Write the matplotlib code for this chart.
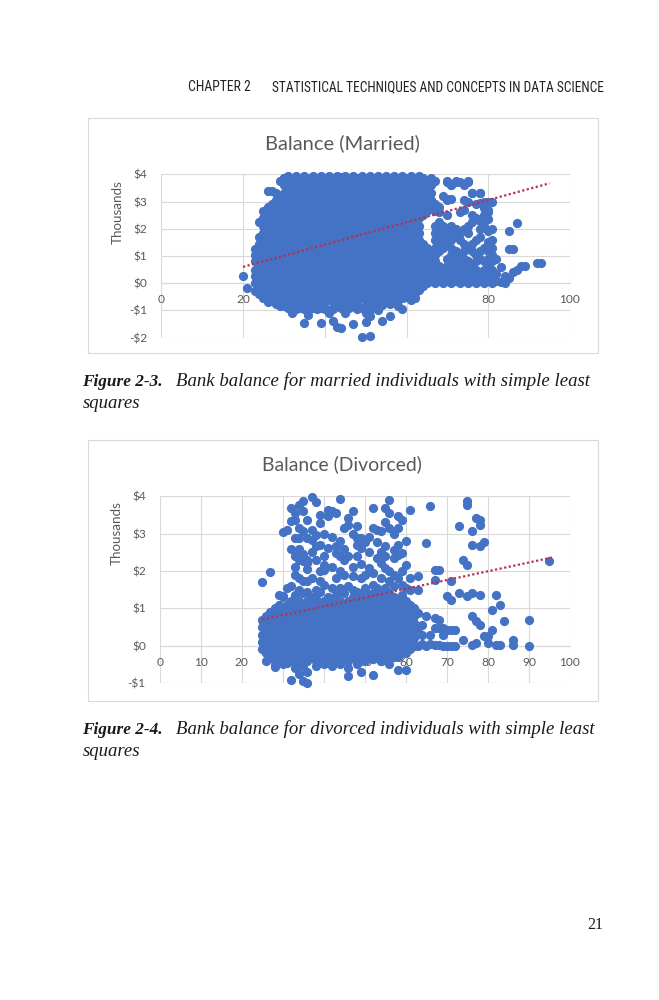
import matplotlib
matplotlib.use("Agg")
import matplotlib.pyplot as plt
from matplotlib.patches import Rectangle

# ---------------- data (age in years, balance in $ thousands) ----------------
# married: dense core read column by column (one list of balances per age)
married_core_age = [23, 24, 25, 26, 27, 28, 29, 30, 31, 32, 33, 34, 35, 36, 37, 38, 39, 40,
                    41, 42, 43, 44, 45, 46, 47, 48, 49, 50, 51, 52, 53, 54, 55, 56, 57, 58,
                    59, 60, 61, 62, 63, 64, 65, 66, 67, 68, 69, 70, 71, 72, 73, 74, 75, 76,
                    77, 78, 79, 80, 81]
married_core_bal = [
    [-0.3, 0.0, 0.25, 0.5, 0.8, 1.05],
    [-0.4, -0.15, 0.1, 0.4, 0.65, 0.9, 1.2, 1.45, 1.7],
    [-0.55, -0.3, 0.0, 0.25, 0.5, 0.8, 1.05, 1.3, 1.6, 1.85, 2.1, 2.4, 2.65],
    [-0.7, -0.4, -0.15, 0.1, 0.4, 0.65, 0.9, 1.2, 1.45, 1.7, 2.0, 2.25, 2.5, 2.8],
    [-0.6, -0.3, 0.0, 0.25, 0.5, 0.8, 1.05, 1.3, 1.6, 1.85, 2.1, 2.4, 2.65, 2.9],
    [-0.75, -0.4, -0.15, 0.1, 0.4, 0.65, 0.9, 1.2, 1.45, 1.7, 2.0, 2.25, 2.5, 2.8, 3.05, 3.3],
    [-0.85, -0.55, -0.3, 0.0, 0.25, 0.5, 0.8, 1.05, 1.3, 1.6, 1.85, 2.1, 2.4, 2.65, 2.9, 3.2],
    [-0.85, -0.6, -0.4, -0.15, 0.1, 0.4, 0.65, 0.9, 1.2, 1.45, 1.7, 2.0, 2.25, 2.5, 2.8, 3.05, 3.3, 3.6, 3.85],
    [-0.9, -0.55, -0.3, 0.0, 0.25, 0.5, 0.8, 1.05, 1.3, 1.6, 1.85, 2.1, 2.4, 2.65, 2.9, 3.2, 3.45, 3.7, 3.92],
    [-1.05, -0.75, -0.45, -0.15, 0.1, 0.4, 0.65, 0.9, 1.2, 1.45, 1.7, 2.0, 2.25, 2.5, 2.8, 3.05, 3.3, 3.6, 3.88],
    [-0.95, -0.65, -0.3, 0.0, 0.25, 0.55, 0.8, 1.05, 1.35, 1.6, 1.85, 2.15, 2.4, 2.65, 2.95, 3.2, 3.45, 3.7, 3.93],
    [-0.9, -0.6, -0.4, -0.15, 0.1, 0.4, 0.7, 0.95, 1.2, 1.45, 1.75, 2.0, 2.25, 2.55, 2.8, 3.05, 3.35, 3.6, 3.85],
    [-0.95, -0.7, -0.35, 0.0, 0.25, 0.5, 0.8, 1.05, 1.3, 1.6, 1.85, 2.1, 2.4, 2.65, 2.9, 3.2, 3.45, 3.7, 3.92],
    [-1.0, -0.7, -0.4, -0.15, 0.15, 0.4, 0.65, 0.9, 1.2, 1.45, 1.7, 2.0, 2.25, 2.5, 2.8, 3.05, 3.3, 3.6, 3.88],
    [-0.9, -0.55, -0.3, 0.0, 0.25, 0.5, 0.8, 1.05, 1.3, 1.6, 1.85, 2.1, 2.4, 2.65, 2.9, 3.2, 3.45, 3.7, 3.92],
    [-0.95, -0.7, -0.4, -0.15, 0.1, 0.4, 0.65, 0.95, 1.2, 1.45, 1.7, 2.0, 2.25, 2.55, 2.8, 3.05, 3.3, 3.6, 3.85],
    [-0.9, -0.55, -0.3, 0.0, 0.3, 0.55, 0.8, 1.05, 1.3, 1.6, 1.85, 2.1, 2.4, 2.65, 2.9, 3.2, 3.45, 3.7, 3.92],
    [-0.95, -0.7, -0.4, -0.15, 0.1, 0.4, 0.65, 0.9, 1.2, 1.5, 1.7, 2.0, 2.25, 2.5, 2.8, 3.05, 3.3, 3.6, 3.88],
    [-1.0, -0.6, -0.3, 0.0, 0.25, 0.5, 0.8, 1.05, 1.3, 1.6, 1.85, 2.1, 2.4, 2.7, 2.9, 3.2, 3.45, 3.7, 3.92],
    [-0.95, -0.7, -0.4, -0.15, 0.1, 0.4, 0.65, 0.9, 1.2, 1.45, 1.7, 2.0, 2.25, 2.5, 2.8, 3.1, 3.3, 3.6, 3.85],
    [-0.85, -0.55, -0.3, 0.0, 0.25, 0.5, 0.8, 1.05, 1.3, 1.6, 1.85, 2.1, 2.4, 2.65, 2.9, 3.2, 3.45, 3.7, 3.92],
    [-0.9, -0.65, -0.4, -0.15, 0.1, 0.4, 0.65, 0.9, 1.2, 1.45, 1.7, 2.0, 2.25, 2.5, 2.8, 3.05, 3.3, 3.6, 3.9],
    [-0.85, -0.55, -0.3, 0.0, 0.25, 0.5, 0.8, 1.05, 1.3, 1.6, 1.85, 2.1, 2.4, 2.65, 2.9, 3.2, 3.45, 3.7, 3.92],
    [-0.9, -0.65, -0.4, -0.15, 0.1, 0.4, 0.65, 0.9, 1.2, 1.45, 1.7, 2.0, 2.25, 2.5, 2.8, 3.05, 3.3, 3.6, 3.85],
    [-0.85, -0.55, -0.3, 0.0, 0.25, 0.5, 0.8, 1.05, 1.3, 1.6, 1.85, 2.1, 2.4, 2.65, 2.9, 3.2, 3.45, 3.7, 3.92],
    [-0.95, -0.7, -0.4, -0.15, 0.1, 0.4, 0.65, 0.9, 1.2, 1.45, 1.7, 2.0, 2.25, 2.5, 2.8, 3.05, 3.3, 3.6, 3.88],
    [-0.9, -0.55, -0.3, 0.0, 0.25, 0.5, 0.8, 1.05, 1.3, 1.6, 1.85, 2.1, 2.4, 2.65, 2.9, 3.2, 3.45, 3.7, 3.92],
    [-1.1, -0.8, -0.45, -0.15, 0.1, 0.4, 0.65, 0.9, 1.2, 1.45, 1.7, 2.0, 2.25, 2.5, 2.8, 3.05, 3.3, 3.6, 3.85],
    [-1.0, -0.6, -0.3, 0.0, 0.25, 0.5, 0.8, 1.05, 1.3, 1.6, 1.85, 2.1, 2.4, 2.65, 2.9, 3.2, 3.45, 3.7, 3.92],
    [-0.8, -0.55, -0.3, -0.1, 0.1, 0.4, 0.65, 0.9, 1.2, 1.45, 1.7, 2.0, 2.25, 2.5, 2.8, 3.05, 3.3, 3.6, 3.88],
    [-0.75, -0.5, -0.3, 0.0, 0.25, 0.5, 0.8, 1.05, 1.3, 1.6, 1.85, 2.1, 2.4, 2.65, 2.9, 3.2, 3.45, 3.7, 3.92],
    [-0.8, -0.55, -0.35, -0.1, 0.15, 0.4, 0.65, 0.9, 1.2, 1.45, 1.7, 2.0, 2.25, 2.5, 2.8, 3.05, 3.3, 3.6, 3.85],
    [-0.7, -0.45, -0.25, 0.0, 0.25, 0.5, 0.8, 1.05, 1.3, 1.6, 1.85, 2.1, 2.4, 2.65, 2.9, 3.2, 3.45, 3.7, 3.92],
    [-0.75, -0.5, -0.3, -0.1, 0.15, 0.4, 0.65, 0.9, 1.2, 1.45, 1.7, 2.0, 2.25, 2.5, 2.8, 3.05, 3.3, 3.6, 3.88],
    [-0.65, -0.4, -0.15, 0.05, 0.3, 0.55, 0.8, 1.05, 1.3, 1.6, 1.85, 2.1, 2.4, 2.65, 2.9, 3.2, 3.45, 3.7, 3.92],
    [-0.6, -0.35, -0.1, 0.15, 0.4, 0.65, 0.9, 1.2, 1.45, 1.7, 2.0, 2.25, 2.5, 2.8, 3.05, 3.3, 3.6, 3.85],
    [-0.55, -0.3, 0.0, 0.25, 0.5, 0.8, 1.05, 1.3, 1.6, 1.85, 2.1, 2.4, 2.65, 2.9, 3.2, 3.45, 3.7, 3.92],
    [-0.5, -0.25, 0.0, 0.2, 0.45, 0.7, 0.95, 1.2, 1.45, 1.7, 2.0, 2.25, 2.5, 2.8, 3.05, 3.3, 3.6, 3.88],
    [-0.45, -0.2, 0.05, 0.3, 0.55, 0.8, 1.05, 1.3, 1.6, 1.85, 2.1, 2.4, 2.65, 2.9, 3.2, 3.45, 3.7, 3.92],
    [-0.35, -0.1, 0.15, 0.4, 0.65, 0.9, 1.2, 1.45, 1.7, 2.0, 2.25, 2.5, 2.8, 3.05, 3.3, 3.6, 3.85],
    [-0.25, 0.0, 0.25, 0.5, 0.8, 1.05, 1.3, 1.6, 1.85, 2.1, 2.4, 2.65, 2.9, 3.2, 3.45, 3.7, 3.92],
    [-0.1, 0.15, 0.4, 0.65, 0.9, 1.2, 1.45, 2.5, 2.8, 3.05, 3.3, 3.6, 3.85],
    [0.0, 0.25, 0.5, 0.8, 1.05, 1.3, 2.65, 2.9, 3.2, 3.45, 3.7],
    [0.1, 0.4, 0.65, 0.9, 1.2, 2.8, 3.05, 3.3, 3.6, 3.85],
    [0.0, 0.25, 0.5, 0.8, 1.05, 1.3, 1.6, 1.85, 2.1, 2.65, 2.9],
    [0.1, 0.4, 0.65, 1.2, 1.45, 1.7, 2.0, 2.25, 2.6],
    [0.0, 0.25, 0.5, 1.3, 1.6, 1.85, 2.1, 3.2],
    [0.1, 0.4, 0.65, 0.9, 1.45, 1.7, 2.0, 2.5, 3.05, 3.7],
    [0.0, 0.25, 0.5, 0.8, 1.05, 1.3, 1.6, 1.85, 2.1, 3.1, 3.6],
    [0.1, 0.4, 0.65, 0.9, 1.2, 1.7, 2.0, 3.7],
    [0.0, 0.25, 0.5, 0.8, 1.05, 1.6, 1.85, 2.6, 3.7],
    [0.1, 0.4, 0.65, 0.9, 1.2, 1.45, 2.0, 2.7, 3.05],
    [0.0, 0.25, 0.5, 0.8, 1.3, 1.85, 2.1, 3.0, 3.7],
    [0.1, 0.4, 0.65, 1.2, 1.45, 2.25, 2.5, 3.33],
    [0.0, 0.25, 0.5, 0.8, 1.05, 1.6, 2.4, 2.9],
    [0.1, 0.4, 0.9, 1.2, 1.7, 2.0, 2.3, 3.33],
    [0.0, 0.25, 0.5, 0.8, 1.3, 2.1, 2.5, 3.0],
    [0.1, 0.4, 0.65, 0.9, 1.2, 1.5, 1.9, 2.35, 2.7, 3.0],
    [0.0, 0.25, 0.5, 0.8, 1.05],
]
# married: isolated points (age, balance)
married_extra = [
    (20, 0.27), (21, -0.16), (23, 1.25), (24, 2.25), (26, 3.39), (27, 3.39), (29, 3.75), (30, 3.88),
    (35, -1.45), (39, -1.45), (42, -1.38), (43, -1.62), (44, -1.65), (47, -1.5), (49, -1.98),
    (51, -1.95), (50, -1.42), (54, -1.4), (56, -1.2), (59, -0.93), (61, -0.6), (32, -1.1),
    (36, -1.15), (41, -1.1), (45, -1.1), (51, -1.2), (53, -1.0), (58, -0.85), (62, -0.55),
    (82, 0.1), (82, 0.35), (83, 0.05), (83, 0.6), (84, 0.0), (84, 0.25), (85, 0.2), (86, 0.4),
    (87, 0.5), (88, 0.64), (89, 0.65), (86, 1.25), (85, 1.25), (85, 1.92), (87, 2.23),
    (92, 0.76), (93, 0.76), (82, 0.9), (81, 1.3), (81, 1.6), (81, 2.0), (80, 2.6), (79, 2.75),
    (78, 2.95), (81, 3.0), (76, 3.33), (78, 3.33), (67, 3.76), (70, 3.76), (71, 3.6), (72, 3.76),
    (75, 3.76), (74, 3.6), (66, 2.9), (68, 2.8), (70, 3.1),
]
married_trend_age = [20, 95]
married_trend_bal = [0.6, 3.67]

# divorced: dense band read column by column
divorced_core_age = [25, 26, 27, 28, 29, 30, 31, 32, 33, 34, 35, 36, 37, 38, 39, 40, 41, 42,
                     43, 44, 45, 46, 47, 48, 49, 50, 51, 52, 53, 54, 55, 56, 57, 58, 59, 60,
                     61, 62]
divorced_core_bal = [
    [-0.1, 0.1, 0.3, 0.5, 0.7],
    [-0.2, 0.0, 0.2, 0.4, 0.6, 0.8],
    [-0.3, -0.1, 0.1, 0.3, 0.5, 0.7, 0.9],
    [-0.4, -0.2, 0.0, 0.2, 0.4, 0.6, 0.8, 1.0],
    [-0.3, -0.1, 0.1, 0.3, 0.5, 0.7, 0.9, 1.1],
    [-0.4, -0.2, 0.0, 0.2, 0.4, 0.6, 0.8, 1.0, 1.3],
    [-0.3, -0.1, 0.1, 0.3, 0.5, 0.7, 0.9, 1.1],
    [-0.4, -0.2, 0.0, 0.2, 0.4, 0.6, 0.8, 1.0, 1.2],
    [-0.3, -0.1, 0.1, 0.3, 0.5, 0.7, 0.9, 1.1, 1.35],
    [-0.4, -0.2, 0.0, 0.2, 0.4, 0.6, 0.8, 1.0, 1.2],
    [-0.3, -0.1, 0.1, 0.3, 0.5, 0.7, 0.9, 1.1, 1.4],
    [-0.4, -0.2, 0.0, 0.2, 0.4, 0.6, 0.8, 1.0, 1.2],
    [-0.3, -0.1, 0.1, 0.3, 0.5, 0.7, 0.9, 1.1, 1.3],
    [-0.4, -0.2, 0.0, 0.2, 0.4, 0.6, 0.8, 1.0, 1.25],
    [-0.3, -0.1, 0.1, 0.3, 0.5, 0.7, 0.9, 1.1, 1.45],
    [-0.35, -0.2, 0.0, 0.2, 0.4, 0.6, 0.8, 1.0, 1.2],
    [-0.3, -0.1, 0.1, 0.3, 0.5, 0.7, 0.9, 1.1, 1.3],
    [-0.4, -0.2, 0.0, 0.2, 0.4, 0.6, 0.8, 1.0, 1.25],
    [-0.3, -0.1, 0.1, 0.3, 0.5, 0.7, 0.9, 1.1, 1.35],
    [-0.4, -0.2, 0.0, 0.2, 0.4, 0.6, 0.8, 1.0, 1.2],
    [-0.3, -0.1, 0.1, 0.3, 0.5, 0.7, 0.9, 1.1, 1.4],
    [-0.4, -0.2, 0.0, 0.2, 0.4, 0.6, 0.8, 1.0, 1.2],
    [-0.3, -0.1, 0.1, 0.3, 0.5, 0.7, 0.9, 1.1, 1.3],
    [-0.4, -0.2, 0.0, 0.2, 0.4, 0.6, 0.8, 1.0, 1.2, 1.45],
    [-0.3, -0.1, 0.1, 0.3, 0.5, 0.7, 0.9, 1.1, 1.3],
    [-0.4, -0.2, 0.0, 0.2, 0.4, 0.6, 0.8, 1.0, 1.2, 1.5],
    [-0.3, -0.1, 0.1, 0.3, 0.5, 0.7, 0.9, 1.1, 1.3],
    [-0.35, -0.2, 0.0, 0.2, 0.4, 0.6, 0.8, 1.0, 1.2, 1.4],
    [-0.3, -0.1, 0.1, 0.3, 0.5, 0.7, 0.9, 1.1, 1.3],
    [-0.4, -0.2, 0.0, 0.2, 0.4, 0.6, 0.8, 1.0, 1.2, 1.45],
    [-0.3, -0.1, 0.1, 0.3, 0.5, 0.7, 0.9, 1.1, 1.3],
    [-0.35, -0.2, 0.0, 0.2, 0.4, 0.6, 0.8, 1.0, 1.2, 1.4],
    [-0.3, -0.1, 0.1, 0.3, 0.5, 0.7, 0.9, 1.1, 1.3],
    [-0.3, -0.2, 0.0, 0.2, 0.4, 0.6, 0.8, 1.0, 1.2],
    [-0.2, -0.1, 0.1, 0.3, 0.5, 0.7, 0.9, 1.1, 1.35],
    [-0.2, 0.0, 0.2, 0.4, 0.6, 0.8, 1.0, 1.2],
    [-0.1, 0.1, 0.3, 0.5, 0.7, 0.9, 1.1],
    [0.0, 0.2, 0.4, 0.6, 0.8, 1.0],
]
# divorced: scattered points (age, balance)
divorced_extra = [
    (25, 1.7), (27, 1.97), (29, 1.37), (30, 3.04), (31, 3.11), (32, 3.69), (33, 3.55), (34, 3.78),
    (35, 3.87), (37, 3.97), (38, 3.86), (41, 3.64), (41, 3.46), (43, 3.55), (44, 3.93), (56, 3.91),
    (35, 3.6), (36, 3.37), (42, 3.6), (39, 3.28), (52, 3.69), (55, 3.69), (56, 3.55), (58, 3.46),
    (59, 3.37), (61, 3.64), (46, 3.42), (46, 3.24), (45, 3.15), (32, 3.33), (33, 2.88), (34, 2.88),
    (36, 2.88), (38, 2.97), (38, 2.66), (48, 2.88), (49, 2.88), (50, 2.79), (48, 2.7), (49, 2.62),
    (52, 3.15), (53, 3.1), (54, 3.06), (56, 3.15), (58, 3.15), (53, 2.79), (55, 2.66), (57, 2.57),
    (59, 2.48), (41, 2.61), (43, 2.48), (44, 2.39), (46, 2.39), (33, 2.39), (34, 2.3), (36, 2.3),
    (40, 2.17), (42, 2.12), (40, 2.04), (33, 1.9), (34, 1.81), (35, 1.72), (37, 1.81), (39, 1.72),
    (40, 1.63), (42, 1.54), (45, 1.9), (47, 1.86), (49, 1.81), (51, 2.08), (52, 1.95), (54, 2.21),
    (55, 2.08), (57, 2.35), (58, 2.44), (60, 2.17), (52, 1.63), (53, 1.54), (56, 1.72), (59, 1.63),
    (61, 1.81), (30, 1.32), (34, 3.15), (35, 3.06), (33, 3.37), (39, 2.7), (43, 2.66), (37, 2.84),
    (35, 2.26), (36, 2.21), (36, 1.72), (32, 2.6), (33, 2.1), (34, 2.6), (35, 2.45), (36, 2.05),
    (37, 2.5), (38, 2.3), (39, 2.0), (32, 1.6), (34, 1.5), (36, 1.45), (38, 1.5), (31, 1.55),
    (37, 3.1), (39, 3.5), (40, 3.0), (40, 2.4), (43, 1.8), (44, 2.0), (45, 2.3), (46, 1.6),
    (47, 2.1), (48, 2.4), (49, 2.2), (50, 1.9), (44, 1.55), (47, 1.5), (50, 1.55), (45, 2.6),
    (47, 3.0), (44, 2.8), (42, 2.9), (47, 3.6), (48, 3.2), (51, 2.5), (53, 2.35), (55, 2.4),
    (56, 2.0), (57, 1.9), (58, 1.8), (60, 1.55), (54, 1.8), (55, 1.55), (57, 1.6), (59, 2.0),
    (60, 2.8), (51, 2.9), (55, 3.3), (57, 3.0), (54, 2.5), (58, 2.7), (61, 1.5),
    (28, -0.51), (28, -0.58), (31, -0.45), (32, -0.91), (35, -0.95), (36, -0.69), (36, -0.99),
    (35, -0.55), (33, -0.6), (34, -0.75), (46, -0.6), (46, -0.82), (49, -0.69), (52, -0.78),
    (54, -0.42), (58, -0.64), (60, -0.64), (44, -0.5), (40, -0.5), (42, -0.55), (48, -0.5),
    (38, -0.55), (30, -0.5), (56, -0.5), (26, -0.4),
    (63, 0.0), (63, 0.47), (63, 0.87), (63, 1.5), (63, 1.86), (64, 0.05), (64, 0.3), (64, 0.56),
    (65, 0.0), (65, 0.79), (65, 2.75), (66, 0.05), (66, 0.3), (66, 3.73), (67, 0.03), (67, 0.47),
    (67, 0.74), (67, 1.77), (67, 2.03), (68, 0.03), (68, 0.47), (68, 0.7), (68, 2.03), (69, 0.0),
    (69, 0.3), (69, 0.47), (70, 0.0), (70, 0.43), (70, 1.32), (71, -0.02), (71, 0.43), (71, 1.23),
    (71, 1.72), (72, -0.02), (72, 0.43), (73, 3.2), (73, 1.41), (74, 0.16), (74, 2.3), (75, 1.32),
    (75, 2.17), (75, 3.87), (75, 3.78), (76, 0.03), (76, 0.79), (76, 1.41), (76, 2.7), (76, 3.06),
    (77, 0.07), (77, 0.65), (77, 3.42), (78, 0.56), (78, 1.36), (78, 2.66), (78, 3.24), (78, 3.37),
    (79, 2.79), (79, 0.25), (80, 0.07), (80, 0.25), (81, 0.43), (81, 0.96), (82, 0.03), (82, 1.36),
    (83, 0.03), (83, 1.1), (84, 0.65), (86, 0.16), (86, 0.03), (90, 0.7), (90, -0.02), (95, 2.28),
]
divorced_trend_age = [25, 96]
divorced_trend_bal = [0.7, 2.37]

married_xticks = [0, 20, 40, 60, 80, 100]
married_yticks = [-2, -1, 0, 1, 2, 3, 4]
married_ylabels = ["-$2", "-$1", "$0", "$1", "$2", "$3", "$4"]
divorced_xticks = [0, 10, 20, 30, 40, 50, 60, 70, 80, 90, 100]
divorced_yticks = [-1, 0, 1, 2, 3, 4]
divorced_ylabels = ["-$1", "$0", "$1", "$2", "$3", "$4"]

# ---------------- style ----------------
BLUE = "#4472C4"
RED = "#B8304E"
GRID = "#D9D9D9"
TXT = "#595959"
SANS = "Lato"
SERIF = "Liberation Serif"
NARROW = ["Liberation Sans Narrow", "Roboto Condensed", "Liberation Sans"]

W, H = 659, 1000
fig = plt.figure(figsize=(W / 100, H / 100), dpi=100)
fig.patch.set_facecolor("white")
rend = fig.canvas.get_renderer()


def fx(px):
    return px / W


def fy(py):
    return 1 - py / H


def fit(t, width_px):
    # scale font so the text spans the measured width on the page
    w = t.get_window_extent(rend).width
    t.set_fontsize(t.get_fontsize() * width_px / w)
    return t


def flatten(ages, cols, extra):
    xs, ys = [], []
    for a, col in zip(ages, cols):
        xs += [a] * len(col)
        ys += col
    for a, b in extra:
        xs.append(a)
        ys.append(b)
    return xs, ys


def chart(box, plot, title, title_xy, title_w, unit_xy, xs, ys, tx, ty, xticks, yticks, ylabels):
    # outer chart frame
    x0, y0, x1, y1 = box
    fig.add_artist(Rectangle((fx(x0), fy(y1)), (x1 - x0) / W, (y1 - y0) / H,
                             transform=fig.transFigure, fill=False,
                             edgecolor=GRID, lw=0.8))
    l, t, r, b = plot
    ax = fig.add_axes([fx(l), fy(b), (r - l) / W, (b - t) / H])
    ax.set_xlim(0, 100)
    ax.set_ylim(yticks[0], yticks[-1])
    ax.set_axisbelow(True)
    ax.grid(True, color=GRID, lw=0.8)
    for s in ax.spines.values():
        s.set_visible(False)
    sp = ax.spines["bottom"]
    sp.set_visible(True)
    sp.set_position(("data", 0))
    sp.set_color(GRID)
    sp.set_zorder(0.6)
    ax.set_xticks(xticks)
    ax.set_xticklabels([str(v) for v in xticks])
    ax.set_yticks(yticks)
    ax.set_yticklabels(ylabels)
    ax.tick_params(length=0, labelcolor=TXT, labelsize=8.6)
    ax.tick_params(axis="x", pad=8)
    ax.tick_params(axis="y", pad=10)
    for lab in ax.get_xticklabels() + ax.get_yticklabels():
        lab.set_family(SANS)
    ax.patch.set_alpha(0)

    ax.scatter(xs, ys, s=44, c=BLUE, linewidths=0, zorder=2, clip_on=False)
    ax.plot(tx, ty, color=RED, lw=1.6, ls=(0, (1, 1.1)), zorder=3)

    tt = fig.text(fx(title_xy[0]), fy(title_xy[1]), title, family=SANS, color=TXT,
                  size=13, ha="center", va="center")
    fit(tt, title_w)
    u = fig.text(fx(unit_xy[0]), fy(unit_xy[1]), "Thousands", family=SANS, color=TXT,
                 size=9.5, ha="center", va="center")
    fit(u, 64)
    u.set_rotation(90)


# header
h1 = fig.text(fx(187.5), fy(91), "CHAPTER 2", family=NARROW, color="#222222",
              size=10, ha="left", va="baseline")
fit(h1, 63)
h2 = fig.text(fx(603.5), fy(91), "STATISTICAL TECHNIQUES AND CONCEPTS IN DATA SCIENCE",
              family=NARROW, color="#222222", size=10, ha="right", va="baseline")
fit(h2, 334)

mx, my = flatten(married_core_age, married_core_bal, married_extra)
chart((88, 118, 598, 353), (161.3, 174.3, 570, 337.7), "Balance (Married)", (342.3, 143.3), 155,
      (118, 211.7), mx, my, married_trend_age, married_trend_bal,
      married_xticks, married_yticks, married_ylabels)

dx, dy = flatten(divorced_core_age, divorced_core_bal, divorced_extra)
chart((88, 440, 598, 701), (159.7, 496.3, 570, 683.1), "Balance (Divorced)", (342.3, 464.7), 158.7,
      (116.3, 533.5), dx, dy, divorced_trend_age, divorced_trend_bal,
      divorced_xticks, divorced_yticks, divorced_ylabels)


def caption(y_base, label, rest, rest_w):
    a = fig.text(fx(82.5), fy(y_base), label, family=SERIF, style="italic", weight="bold",
                 size=12, color="#1a1a1a", ha="left", va="baseline")
    fit(a, 80.5)
    b = fig.text(fx(176), fy(y_base), rest, family=SERIF, style="italic",
                 size=12, color="#1a1a1a", ha="left", va="baseline")
    fit(b, rest_w)
    fig.text(fx(82.5), fy(y_base + 22.5), "squares", family=SERIF, style="italic",
             size=b.get_fontsize(), color="#1a1a1a", ha="left", va="baseline")


caption(385.5, "Figure 2-3.", "Bank balance for married individuals with simple least", 413)
caption(734, "Figure 2-4.", "Bank balance for divorced individuals with simple least", 417.5)

fig.text(fx(603), fy(929), "21", family=SERIF, size=11.5, color="#1a1a1a",
         ha="right", va="baseline")

fig.savefig("out.png", dpi=100, facecolor="white")
